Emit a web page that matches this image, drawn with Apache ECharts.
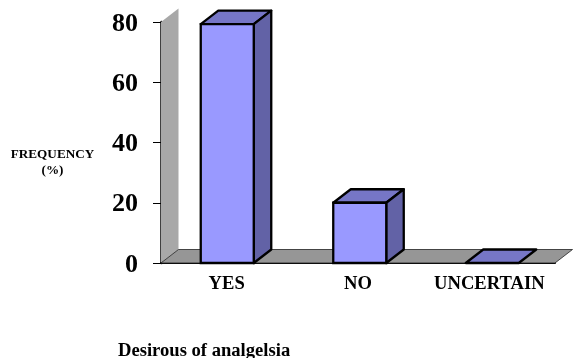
<!DOCTYPE html>
<html>
<head>
<meta charset="utf-8">
<style>html,body{margin:0;padding:0;background:#fff}#chart{width:573px;height:358px}</style>
<script src="https://cdn.jsdelivr.net/npm/echarts@6/dist/echarts.min.js"></script>
</head>
<body>
<div id="chart"></div>
<script>
var categories = ['YES', 'NO', 'UNCERTAIN'];
var frequency = [79.3, 20, 0];
var yTicks = [0, 20, 40, 60, 80];
var yLabel = 'FREQUENCY\n(%)';
var xLabel = 'Desirous of analgelsia';

var depthX = 17.5, depthY = 13.5;
var barW = 53;
var fontName = '"Liberation Serif", "Times New Roman", serif';

function poly(points, fill, lineW, lineC) {
    return {
        type: 'polygon',
        shape: { points: points },
        style: { fill: fill, stroke: lineC || '#000', lineWidth: lineW, lineJoin: 'round' }
    };
}

// back wall and floor of the pseudo 3D box
function renderBox(params, api) {
    var left = api.coord([0, 80])[0] - (params.coordSys.width / categories.length) / 2;
    var right = left + params.coordSys.width;
    var top = api.coord([0, 80])[1];
    var base = api.coord([0, 0])[1];
    return {
        type: 'group',
        children: [
            poly([[left, base], [left, top], [left + depthX, top - depthY], [left + depthX, base - depthY]], '#a8a8a8', 0, 'transparent'),
            poly([[left, base], [left + depthX, base - depthY], [right + depthX, base - depthY], [right, base]], '#969696', 0.8, '#222')
        ]
    };
}

function renderBar(params, api) {
    var p = api.coord([api.value(0), api.value(1)]);
    var b = api.coord([api.value(0), 0]);
    var x0 = p[0] - barW / 2, x1 = p[0] + barW / 2;
    var y0 = p[1], y1 = b[1];
    var kids = [
        poly([[x0, y0], [x0 + depthX, y0 - depthY], [x1 + depthX, y0 - depthY], [x1, y0]], '#7676c6', 2.3)
    ];
    if (y1 - y0 > 1) {
        kids.push(poly([[x1, y0], [x1 + depthX, y0 - depthY], [x1 + depthX, y1 - depthY], [x1, y1]], '#6262a6', 2.3));
        kids.push({
            type: 'rect',
            shape: { x: x0, y: y0, width: barW, height: y1 - y0 },
            style: { fill: '#9999ff', stroke: '#000', lineWidth: 2.3 }
        });
    }
    return { type: 'group', children: kids };
}

var myChart = echarts.init(document.getElementById('chart'));
var option = {
    animation: false,
    backgroundColor: '#fff',
    textStyle: { fontFamily: fontName },
    graphic: [
        { type: 'text', x: 52.5, y: 146, style: { text: yLabel, fill: '#000', font: 'bold 13.2px ' + fontName, align: 'center', lineHeight: 16.5 } },
        { type: 'text', left: 118, top: 342, style: { text: xLabel, fill: '#000', font: 'bold 18.6px ' + fontName } }
    ],
    grid: [
        { left: 161, top: 22, width: 394, height: 241 },
        { left: 161, top: 22, width: 397.5, height: 241 }
    ],
    xAxis: [{
        type: 'category',
        gridIndex: 0,
        data: categories,
        axisLine: { lineStyle: { color: '#000', width: 2 } },
        axisTick: { length: 5, alignWithLabel: false, lineStyle: { color: '#000', width: 1 } },
        axisLabel: { color: '#000', fontWeight: 'bold', fontSize: 18.6, margin: 12, fontFamily: fontName, interval: 0 }
    }, {
        type: 'category',
        gridIndex: 1,
        data: categories,
        show: false
    }],
    yAxis: [{
        type: 'value',
        gridIndex: 0,
        min: 0,
        max: 80,
        interval: 20,
        splitLine: { show: false },
        axisLine: { show: true, lineStyle: { color: '#000', width: 2.5 } },
        axisTick: { show: true, length: 8, lineStyle: { color: '#000', width: 1 } },
        axisLabel: {
            margin: 23,
            formatter: function (v) { return yTicks.indexOf(v) >= 0 ? '{t|' + v + '}' : ''; },
            rich: {
                t: { color: '#000', fontWeight: 'bold', fontSize: 26, fontFamily: fontName, lineHeight: 26, padding: [4, 0, 0, 0] }
            }
        }
    }, {
        type: 'value',
        gridIndex: 1,
        min: 0,
        max: 80,
        show: false
    }],
    series: [{
        type: 'custom',
        xAxisIndex: 0,
        yAxisIndex: 0,
        z: 1,
        clip: false,
        renderItem: renderBox,
        data: [[0, 0]]
    }, {
        type: 'custom',
        xAxisIndex: 1,
        yAxisIndex: 1,
        z: 3,
        clip: false,
        renderItem: renderBar,
        encode: { x: 0, y: 1 },
        data: frequency.map(function (v, i) { return [i, v]; })
    }]
};
option && myChart.setOption(option);
</script>
</body>
</html>
